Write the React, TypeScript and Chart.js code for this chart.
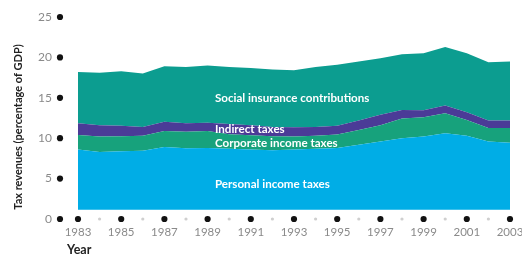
import React, { useEffect, useRef } from "react";
import { Chart, registerables } from "chart.js";

Chart.register(...registerables);

// ---- Data (percentage of GDP) ----
const years = [
  "1983", "1984", "1985", "1986", "1987", "1988", "1989", "1990", "1991", "1992",
  "1993", "1994", "1995", "1996", "1997", "1998", "1999", "2000", "2001", "2002", "2003",
];
// personal income taxes: upper boundary as read on the axis (area drawn from AREA_BASE)
const personal = [8.6, 8.3, 8.4, 8.45, 8.9, 8.75, 8.8, 8.7, 8.6, 8.5, 8.6, 8.7, 8.8, 9.2, 9.6, 10.0, 10.2, 10.6, 10.3, 9.6, 9.45];
const corporate = [1.8, 1.9, 1.85, 1.85, 2.0, 2.05, 2.1, 1.8, 1.75, 1.75, 1.6, 1.6, 1.65, 1.8, 2.0, 2.45, 2.4, 2.5, 1.95, 1.65, 1.8];
const indirect = [1.45, 1.4, 1.3, 1.1, 1.15, 1.05, 1.0, 1.25, 1.25, 1.15, 1.15, 1.1, 1.1, 1.2, 1.3, 1.05, 0.85, 0.95, 0.95, 0.95, 0.95];
const social = [6.35, 6.5, 6.75, 6.6, 6.85, 6.95, 7.1, 7.05, 7.1, 7.1, 7.05, 7.4, 7.55, 7.3, 7.0, 6.9, 7.05, 7.25, 7.3, 7.2, 7.3];
const AREA_BASE = 1.15;

const yTicks = [0, 5, 10, 15, 20, 25];
const seriesNames = [
  "Personal income taxes",
  "Corporate income taxes",
  "Indirect taxes",
  "Social insurance contributions",
];
// label anchors: [category index, value]
const labelAnchors: [number, number][] = [
  [6.34, 4.33],
  [6.34, 9.37],
  [6.34, 11.14],
  [6.34, 14.94],
];
const yTitle = "Tax revenues (percentage of GDP)";
const xTitle = "Year";

const colors = ["#00ade6", "#17a27c", "#4b3b97", "#0c9d90"];

const decorPlugin = {
  id: "decor",
  afterDraw(chart: any) {
    const { ctx, chartArea } = chart;
    const x = chart.scales.x;
    const y = chart.scales.y;
    const dot = (px: number, py: number, r: number, c: string) => {
      ctx.beginPath();
      ctx.arc(px, py, r, 0, Math.PI * 2);
      ctx.fillStyle = c;
      ctx.fill();
    };
    ctx.save();
    const dotX = chartArea.left - 18;
    yTicks.forEach((v) => dot(dotX, y.getPixelForValue(v), 3.1, "#111"));
    const rowY = y.getPixelForValue(0);
    years.forEach((_, i) => {
      const px = x.getPixelForValue(i);
      if (i % 2 === 0) dot(px, rowY, 3.1, "#111");
      else dot(px, rowY, 1.6, "#cfcfcf");
    });

    // in-area labels
    ctx.fillStyle = "#ffffff";
    ctx.font = "bold 11.6px Lato";
    ctx.textAlign = "left";
    ctx.textBaseline = "middle";
    labelAnchors.forEach(([ix, v], k) => {
      ctx.fillText(seriesNames[k], x.getPixelForValue(ix), y.getPixelForValue(v));
    });

    // axis titles
    ctx.fillStyle = "#222";
    ctx.font = "bold 11px Lato";
    ctx.textAlign = "center";
    ctx.save();
    ctx.translate(18, 127);
    ctx.rotate(-Math.PI / 2);
    ctx.fillText(yTitle, 0, 0);
    ctx.restore();
    ctx.textAlign = "left";
    ctx.font = "bold 12.5px Lato";
    ctx.fillText(xTitle, 67, 250);
    ctx.restore();
  },
};

export default function App() {
  const ref = useRef<HTMLCanvasElement | null>(null);
  useEffect(() => {
    if (!ref.current) return;
    const chart = new Chart(ref.current, {
      type: "line",
      data: {
        labels: years,
        datasets: [
          { label: seriesNames[0], data: personal, backgroundColor: colors[0], fill: { value: AREA_BASE } },
          { label: seriesNames[1], data: corporate, backgroundColor: colors[1], fill: "-1" },
          { label: seriesNames[2], data: indirect, backgroundColor: colors[2], fill: "-1" },
          { label: seriesNames[3], data: social, backgroundColor: colors[3], fill: "-1" },
        ].map((d) => ({ ...d, borderWidth: 0, pointRadius: 0, tension: 0 })) as any,
      },
      options: {
        animation: false,
        responsive: false,
        layout: { padding: { top: 17, right: 12, left: 0, bottom: 0 } },
        plugins: { legend: { display: false }, tooltip: { enabled: false } },
        scales: {
          x: {
            grid: { display: false, drawTicks: false },
            border: { display: false },
            ticks: {
              autoSkip: false,
              maxRotation: 0,
              padding: 6,
              color: "#8a8a8a",
              font: { family: "Lato", size: 11.5 },
              callback: (_v: any, i: number) => (i % 2 === 0 ? years[i] : ""),
            },
            afterFit: (s: any) => {
              s.height = 37;
              s.paddingLeft = 0;
              s.paddingRight = 0;
              s.paddingTop = 0;
              s.paddingBottom = 0;
            },
          },
          y: {
            stacked: true,
            min: 0,
            max: 25,
            grid: { display: false, drawTicks: false },
            border: { display: false },
            ticks: {
              stepSize: 5,
              padding: 26,
              color: "#8a8a8a",
              font: { family: "Lato", size: 12 },
            },
            afterFit: (s: any) => {
              s.width = 78;
              s.paddingLeft = 0;
              s.paddingRight = 0;
              s.paddingTop = 0;
              s.paddingBottom = 0;
            },
          },
        },
      },
      plugins: [decorPlugin],
    });
    return () => chart.destroy();
  }, []);
  return (
    <div style={{ position: "fixed", left: 0, top: 0, width: 522, height: 256, background: "#fff" }}>
      <canvas ref={ref} width={522} height={256} style={{ display: "block" }} />
    </div>
  );
}
